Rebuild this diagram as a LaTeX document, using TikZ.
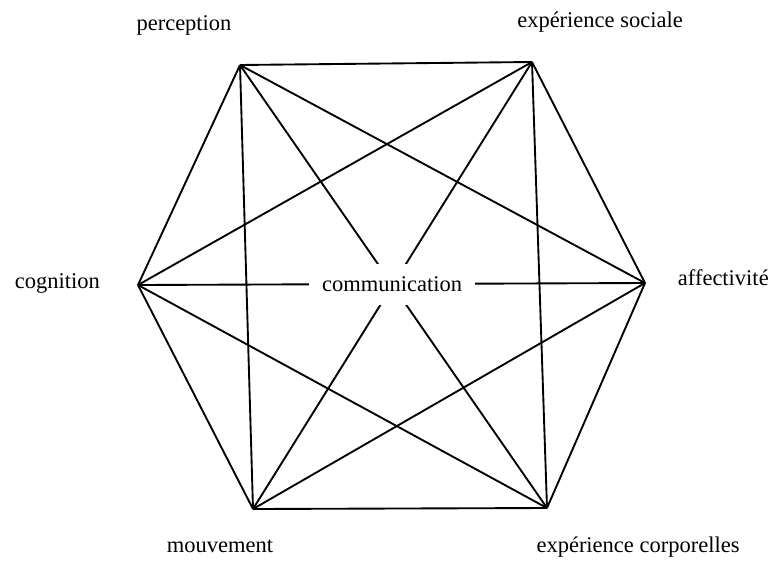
\documentclass[tikz,border=0pt]{standalone}
\usepackage{fontspec}
\setmainfont{Liberation Serif}
\begin{document}
\begin{tikzpicture}[x=0.03cm,y=-0.03cm,line width=1.6pt,
    every node/.style={font=\fontsize{19.2}{23}\selectfont}]
    \useasboundingbox (0,0) rectangle (768,560);
    \coordinate (per) at (240,65);
    \coordinate (soc) at (532,62);
    \coordinate (aff) at (645,283);
    \coordinate (cor) at (547,508);
    \coordinate (mou) at (253,509);
    \coordinate (cog) at (138,285);
    \foreach \u/\v in {per/soc,per/aff,per/cor,per/mou,per/cog,
                       soc/aff,soc/cor,soc/mou,soc/cog,
                       aff/cor,aff/mou,aff/cog,
                       cor/mou,cor/cog,mou/cog}
      \draw (\u) -- (\v);
    \node[fill=white, inner sep=0pt, minimum width=5cm, minimum height=1.23cm] (com) at (392,284) {communication};
    \node[anchor=base] (lper) at (184,30) {perception};
    \node[anchor=base] (lsoc) at (600,27) {expérience sociale};
    \node[anchor=base west, inner sep=0pt] (laff) at (677,285) {affectivité};
    \node[anchor=base west, inner sep=0pt] (lcog) at (14,288) {cognition};
    \node[anchor=base, inner sep=0pt] (lcor) at (638,552) {expérience corporelles};
    \node[anchor=base, inner sep=0pt] (lmou) at (220,552) {mouvement};
\end{tikzpicture}
\end{document}
